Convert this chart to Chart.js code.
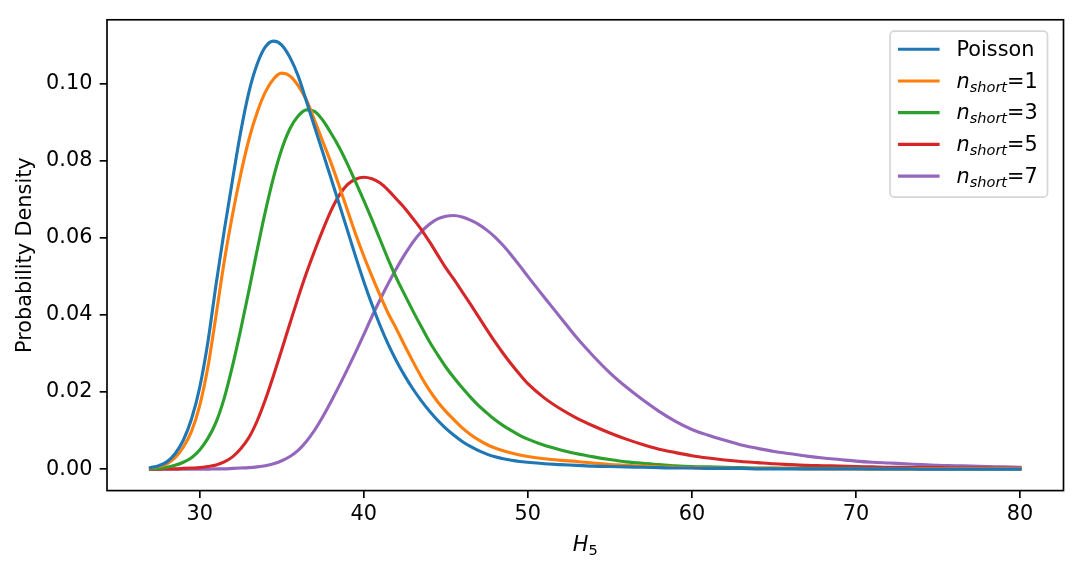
<!DOCTYPE html>
<html>
<head>
<meta charset="utf-8">
<script src="https://cdn.jsdelivr.net/npm/chart.js@4.4.1/dist/chart.umd.min.js"></script>
<style>
  html, body { margin: 0; padding: 0; background: #fff; }
  #wrap { width: 1079px; height: 572px; }
</style>
</head>
<body>
<div id="wrap"><canvas id="myChart" width="1079" height="572"></canvas></div>
<script>
// H5 values the curves are sampled at (half steps where the curves bend most)
const h5 = [27, 27.5, 28, 28.5, 29, 29.5, 30, 30.5, 31, 31.5,
  32, 32.5, 33, 33.5, 34, 34.5, 35, 35.5, 36, 36.5,
  37, 37.5, 38, 38.5, 39, 39.5, 40, 40.5, 41, 41.5,
  42, 42.5, 43, 43.5, 44, 44.5, 45, 45.5, 46, 46.5,
  47, 47.5, 48, 48.5, 49, 49.5,
  50, 51, 52, 53, 54, 55, 56, 57, 58, 59,
  60, 61, 62, 63, 64, 65, 66, 67, 68, 69,
  70, 71, 72, 73, 74, 75, 76, 77, 78, 79,
  80];

// probability density
const poisson = [0.0004, 0.0009, 0.0019, 0.0040, 0.0075, 0.0130, 0.0212, 0.0330, 0.0480, 0.0620,
  0.0750, 0.0875, 0.0978, 0.1050, 0.1095, 0.1110, 0.1100, 0.1068, 0.1020, 0.0955,
  0.0888, 0.0822, 0.0755, 0.0688, 0.0620, 0.0552, 0.0487, 0.0427, 0.0372, 0.0323,
  0.0280, 0.0242, 0.0208, 0.0178, 0.0151, 0.0127, 0.0106, 0.0088, 0.0072, 0.0059,
  0.0048, 0.0039, 0.0032, 0.0027, 0.0023, 0.0020,
  0.0018, 0.0014, 0.0012, 0.0010, 0.0008, 0.0007, 0.0006, 0.0005, 0.0004, 0.0003,
  0.0003, 0.0002, 0.0002, 0.0002, 0.0001, 0.0001, 0.0001, 0.0001, 0.0001, 0.0001,
  0.0001, 0.0001, 0.0001, 0.0001, 0.0000, 0.0000, 0.0000, 0.0000, 0.0000, 0.0000,
  0.0000];
const nShort1 = [0.0003, 0.0007, 0.0014, 0.0030, 0.0057, 0.0098, 0.0165, 0.0265, 0.0400, 0.0540,
  0.0660, 0.0765, 0.0855, 0.0925, 0.0978, 0.1012, 0.1027, 0.1020, 0.0995, 0.0958,
  0.0905, 0.0850, 0.0795, 0.0735, 0.0672, 0.0610, 0.0553, 0.0500, 0.0450, 0.0403,
  0.0363, 0.0320, 0.0279, 0.0240, 0.0205, 0.0175, 0.0150, 0.0128, 0.0107, 0.0090,
  0.0076, 0.0064, 0.0055, 0.0048, 0.0042, 0.0037,
  0.0033, 0.0027, 0.0023, 0.0020, 0.0016, 0.0012, 0.0010, 0.0008, 0.0006, 0.0005,
  0.0004, 0.0003, 0.0003, 0.0002, 0.0002, 0.0002, 0.0002, 0.0001, 0.0001, 0.0001,
  0.0001, 0.0001, 0.0001, 0.0001, 0.0001, 0.0001, 0.0001, 0.0001, 0.0001, 0.0001,
  0.0001];
const nShort3 = [0.0001, 0.0002, 0.0005, 0.0010, 0.0018, 0.0030, 0.0050, 0.0080, 0.0122, 0.0185,
  0.0268, 0.0362, 0.0463, 0.0568, 0.0668, 0.0757, 0.0830, 0.0883, 0.0916, 0.0932,
  0.0928, 0.0905, 0.0872, 0.0835, 0.0792, 0.0745, 0.0697, 0.0647, 0.0595, 0.0543,
  0.0495, 0.0452, 0.0410, 0.0370, 0.0331, 0.0297, 0.0265, 0.0237, 0.0211, 0.0187,
  0.0165, 0.0146, 0.0128, 0.0113, 0.0100, 0.0088,
  0.0078, 0.0062, 0.0050, 0.0040, 0.0032, 0.0025, 0.0019, 0.0015, 0.0012, 0.0009,
  0.0007, 0.0006, 0.0005, 0.0004, 0.0003, 0.0003, 0.0002, 0.0002, 0.0002, 0.0002,
  0.0002, 0.0001, 0.0001, 0.0001, 0.0001, 0.0001, 0.0001, 0.0001, 0.0001, 0.0001,
  0.0001];
const nShort5 = [0.0000, 0.0000, 0.0001, 0.0001, 0.0002, 0.0003, 0.0004, 0.0007, 0.0011, 0.0019,
  0.0032, 0.0053, 0.0082, 0.0125, 0.0180, 0.0243, 0.0310, 0.0378, 0.0445, 0.0508,
  0.0566, 0.0620, 0.0670, 0.0710, 0.0738, 0.0752, 0.0757, 0.0753, 0.0742, 0.0723,
  0.0700, 0.0677, 0.0650, 0.0622, 0.0590, 0.0556, 0.0522, 0.0492, 0.0460, 0.0428,
  0.0395, 0.0362, 0.0330, 0.0300, 0.0272, 0.0246,
  0.0222, 0.0185, 0.0156, 0.0132, 0.0112, 0.0094, 0.0078, 0.0064, 0.0052, 0.0043,
  0.0035, 0.0029, 0.0024, 0.0020, 0.0017, 0.0014, 0.0012, 0.0010, 0.0009, 0.0008,
  0.0007, 0.0006, 0.0005, 0.0005, 0.0004, 0.0004, 0.0003, 0.0003, 0.0003, 0.0002,
  0.0002];
const nShort7 = [0.0000, 0.0000, 0.0000, 0.0000, 0.0000, 0.0000, 0.0000, 0.0000, 0.0001, 0.0001,
  0.0002, 0.0003, 0.0004, 0.0006, 0.0009, 0.0014, 0.0022, 0.0033, 0.0049, 0.0072,
  0.0101, 0.0136, 0.0175, 0.0216, 0.0259, 0.0303, 0.0349, 0.0396, 0.0440, 0.0482,
  0.0521, 0.0557, 0.0589, 0.0615, 0.0635, 0.0649, 0.0656, 0.0658, 0.0654, 0.0646,
  0.0635, 0.0620, 0.0602, 0.0580, 0.0555, 0.0528,
  0.0500, 0.0446, 0.0393, 0.0340, 0.0293, 0.0250, 0.0213, 0.0180, 0.0150, 0.0124,
  0.0103, 0.0088, 0.0075, 0.0063, 0.0054, 0.0046, 0.0040, 0.0034, 0.0029, 0.0025,
  0.0021, 0.0018, 0.0016, 0.0014, 0.0012, 0.0010, 0.0009, 0.0008, 0.0007, 0.0006,
  0.0005];

const seriesNames = ['Poisson', 'n_short=1', 'n_short=3', 'n_short=5', 'n_short=7'];
const seriesValues = [poisson, nShort1, nShort3, nShort5, nShort7];
const xTicks = [30, 40, 50, 60, 70, 80];
const yTicks = [0, 0.02, 0.04, 0.06, 0.08, 0.10];
const xTitle = 'H_5';
const yTitle = 'Probability Density';

const colors = ['#1f77b4', '#ff7f0e', '#2ca02c', '#d62728', '#9467bd'];
const FS = 20.8; // 10pt at 150 dpi
const FAMILY = "'DejaVu Sans'";

Chart.defaults.font.family = FAMILY;
Chart.defaults.font.size = FS;
Chart.defaults.color = '#000';

// draws "a_bc" as italic a with a smaller subscript, rest upright
function drawMath(ctx, str, x, y, align) {
  const m = str.match(/^(\w)_(\w+)(.*)$/);
  const big = 'italic ' + FS + 'px ' + FAMILY;
  const small = (/^\d+$/.test(m ? m[2] : '') ? '' : 'italic ') + (FS * 0.7) + 'px ' + FAMILY;
  const plain = FS + 'px ' + FAMILY;
  if (!m) {
    ctx.font = plain;
    ctx.textAlign = align;
    ctx.fillText(str, x, y);
    return;
  }
  ctx.textAlign = 'left';
  ctx.font = big;   const w1 = ctx.measureText(m[1]).width;
  ctx.font = small; const w2 = ctx.measureText(m[2]).width;
  ctx.font = plain; const w3 = ctx.measureText(m[3]).width;
  let x0 = x;
  if (align === 'center') x0 = x - (w1 + w2 + w3) / 2;
  ctx.font = big;   ctx.fillText(m[1], x0, y);
  ctx.font = small; ctx.fillText(m[2], x0 + w1, y + 4);
  ctx.font = plain; ctx.fillText(m[3], x0 + w1 + w2, y);
}

const decor = {
  id: 'decor',
  afterDatasetsDraw(chart) {
    const {ctx, chartArea: a} = chart;
    ctx.save();
    ctx.strokeStyle = '#000';
    ctx.lineWidth = 1.67;
    ctx.strokeRect(a.left, a.top, a.right - a.left, a.bottom - a.top);

    // legend box, upper right
    const bx = a.right - 173.5, by = a.top + 11.4, bw = 157.5, bh = 166, r = 4.2;
    ctx.beginPath();
    ctx.moveTo(bx + r, by);
    ctx.arcTo(bx + bw, by, bx + bw, by + bh, r);
    ctx.arcTo(bx + bw, by + bh, bx, by + bh, r);
    ctx.arcTo(bx, by + bh, bx, by, r);
    ctx.arcTo(bx, by, bx + bw, by, r);
    ctx.closePath();
    ctx.fillStyle = 'rgba(255,255,255,0.8)';
    ctx.fill();
    ctx.strokeStyle = 'rgba(204,204,204,0.8)';
    ctx.lineWidth = 1.67;
    ctx.stroke();

    seriesNames.forEach((name, i) => {
      const ry = by + 18.1 + i * 31.7;
      ctx.strokeStyle = colors[i];
      ctx.lineWidth = 3.125;
      ctx.beginPath();
      ctx.moveTo(bx + 8, ry);
      ctx.lineTo(bx + 49.6, ry);
      ctx.stroke();
      ctx.fillStyle = '#000';
      ctx.textBaseline = 'alphabetic';
      drawMath(ctx, name, bx + 66.5, ry + 6.7, 'left');
    });

    // x axis title
    ctx.fillStyle = '#000';
    ctx.textBaseline = 'alphabetic';
    drawMath(ctx, xTitle, (a.left + a.right) / 2, 551, 'center');
    ctx.restore();
  }
};

const config = {
  type: 'line',
  data: {
    datasets: seriesValues.map((vals, i) => ({
      label: seriesNames[i],
      data: h5.map((x, j) => ({x: x, y: vals[j]})),
      borderColor: colors[i],
      backgroundColor: colors[i],
      borderWidth: 3.125,
      borderJoinStyle: 'round',
      borderCapStyle: 'square',
      pointRadius: 0,
      cubicInterpolationMode: 'monotone',
      fill: false
    }))
  },
  options: {
    responsive: false,
    animation: false,
    devicePixelRatio: 1,
    events: [],
    layout: { padding: { top: 14.5, right: 15.5, left: 0, bottom: 0 } },
    plugins: {
      legend: { display: false },
      tooltip: { enabled: false }
    },
    scales: {
      x: {
        type: 'linear',
        min: 24.35,
        max: 82.65,
        afterBuildTicks: s => { s.ticks = xTicks.map(v => ({value: v})); },
        afterFit: s => { s.height = 81.4; },
        border: { display: false },
        grid: { drawOnChartArea: false, drawTicks: true, tickLength: 7.3, color: '#000', lineWidth: 1.67 },
        ticks: { padding: 4.5, autoSkip: false, maxRotation: 0, color: '#000', callback: v => String(v) }
      },
      y: {
        type: 'linear',
        min: -0.00555,
        max: 0.11655,
        afterBuildTicks: s => { s.ticks = yTicks.map(v => ({value: v})); },
        afterFit: s => { s.width = 107; },
        border: { display: false },
        grid: { drawOnChartArea: false, drawTicks: true, tickLength: 7.3, color: '#000', lineWidth: 1.67 },
        ticks: { padding: 7.3, autoSkip: false, color: '#000', callback: v => v.toFixed(2) },
        title: { display: true, text: yTitle, color: '#000', padding: { top: 13, bottom: 0 } }
      }
    }
  },
  plugins: [decor]
};

const myChart = new Chart(document.getElementById('myChart'), config);
</script>
</body>
</html>
